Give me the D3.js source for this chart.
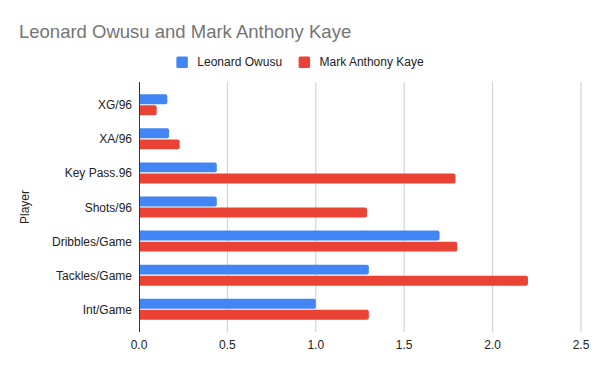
<!DOCTYPE html>
<html>
<head>
<meta charset="utf-8">
<script src="https://cdn.jsdelivr.net/npm/d3@7"></script>
<style>
	body { margin: 0; background: #fff; }
	text { font-family: Arial, 'Liberation Sans', sans-serif; }
</style>
</head>
<body>
<svg id="chart" width="600" height="371"></svg>
<script>
const categories = ['XG/96', 'XA/96', 'Key Pass.96', 'Shots/96', 'Dribbles/Game', 'Tackles/Game', 'Int/Game'];
const seriesNames = ['Leonard Owusu', 'Mark Anthony Kaye'];
const owusuValues = [0.16, 0.17, 0.44, 0.44, 1.7, 1.3, 1.0];
const kayeValues = [0.1, 0.23, 1.79, 1.29, 1.8, 2.2, 1.3];
const xTicks = [0, 0.5, 1.0, 1.5, 2.0, 2.5];
const colors = ['#4285f4', '#ea4335'];

const width = 600;
const height = 371;
const svg = d3.select('#chart');

svg.append('rect')
	.attr('width', width)
	.attr('height', height)
	.attr('fill', '#ffffff');

const plot = { left: 139, right: 581, top: 82, bottom: 332 };

const x = d3.scaleLinear()
	.domain([0, 2.5])
	.range([plot.left, plot.right]);

const y = d3.scaleBand()
	.domain(categories)
	.range([plot.top, plot.bottom])
	.paddingInner(0.384)
	.paddingOuter(0.36);

const ySub = d3.scaleBand()
	.domain(seriesNames)
	.range([0, y.bandwidth()])
	.paddingInner(0.1);

const rows = categories.map((c, i) => ({
	category: c,
	values: [owusuValues[i], kayeValues[i]]
}));

// title
svg.append('text')
	.attr('x', 19)
	.attr('y', 37.5)
	.attr('fill', '#757575')
	.attr('font-size', '18.5px')
	.text('Leonard Owusu and Mark Anthony Kaye');

// gridlines
svg.append('g')
	.selectAll('line')
	.data(xTicks.slice(1))
	.enter().append('line')
	.attr('x1', d => x(d))
	.attr('x2', d => x(d))
	.attr('y1', plot.top)
	.attr('y2', plot.bottom)
	.attr('stroke', '#cccccc')
	.attr('stroke-width', 1);

// bars with rounded right end
function barPath(x0, x1, y0, h, r) {
	const p = d3.path();
	r = Math.min(r, (x1 - x0) / 2, h / 2);
	p.moveTo(x0, y0);
	p.lineTo(x1 - r, y0);
	p.arcTo(x1, y0, x1, y0 + r, r);
	p.lineTo(x1, y0 + h - r);
	p.arcTo(x1, y0 + h, x1 - r, y0 + h, r);
	p.lineTo(x0, y0 + h);
	p.closePath();
	return p.toString();
}

const groups = svg.append('g')
	.selectAll('.row')
	.data(rows)
	.enter().append('g')
	.attr('class', 'row')
	.attr('transform', d => `translate(0,${y(d.category)})`);

groups.selectAll('path')
	.data(d => d.values.map((v, i) => ({ name: seriesNames[i], value: v, i })))
	.enter().append('path')
	.attr('d', d => barPath(x(0), x(d.value), ySub(d.name), ySub.bandwidth(), 2))
	.attr('fill', d => colors[d.i]);

// y axis line and labels
svg.append('line')
	.attr('x1', x(0) + 0.5)
	.attr('x2', x(0) + 0.5)
	.attr('y1', plot.top)
	.attr('y2', plot.bottom)
	.attr('stroke', '#333333')
	.attr('stroke-width', 1);

svg.append('g')
	.selectAll('text')
	.data(categories)
	.enter().append('text')
	.attr('x', plot.left - 7)
	.attr('y', d => y(d) + y.bandwidth() / 2 + 4.5)
	.attr('text-anchor', 'end')
	.attr('font-size', '12px')
	.attr('fill', '#222222')
	.text(d => d);

// x tick labels
svg.append('g')
	.selectAll('text')
	.data(xTicks)
	.enter().append('text')
	.attr('x', d => x(d))
	.attr('y', 348.7)
	.attr('text-anchor', 'middle')
	.attr('font-size', '12px')
	.attr('fill', '#222222')
	.text(d => d3.format('.1f')(d));

// axis title
svg.append('text')
	.attr('transform', `translate(29,${(plot.top + plot.bottom) / 2}) rotate(-90)`)
	.attr('text-anchor', 'middle')
	.attr('font-size', '12px')
	.attr('fill', '#222222')
	.text('Player');

// legend
const legend = svg.append('g');
let lx = 0;
seriesNames.forEach((name, i) => {
	const item = legend.append('g').attr('transform', `translate(${lx},0)`);
	item.append('rect')
		.attr('x', 0)
		.attr('y', 56.5)
		.attr('width', 11.5)
		.attr('height', 11.5)
		.attr('rx', 1.5)
		.attr('fill', colors[i]);
	const t = item.append('text')
		.attr('x', 21)
		.attr('y', 66)
		.attr('font-size', '12px')
		.attr('fill', '#222222')
		.text(name);
	lx += 21 + t.node().getComputedTextLength() + 16.5;
});
const legendWidth = lx - 16.5;
legend.attr('transform', `translate(${(width - legendWidth) / 2},0)`);
</script>
</body>
</html>
